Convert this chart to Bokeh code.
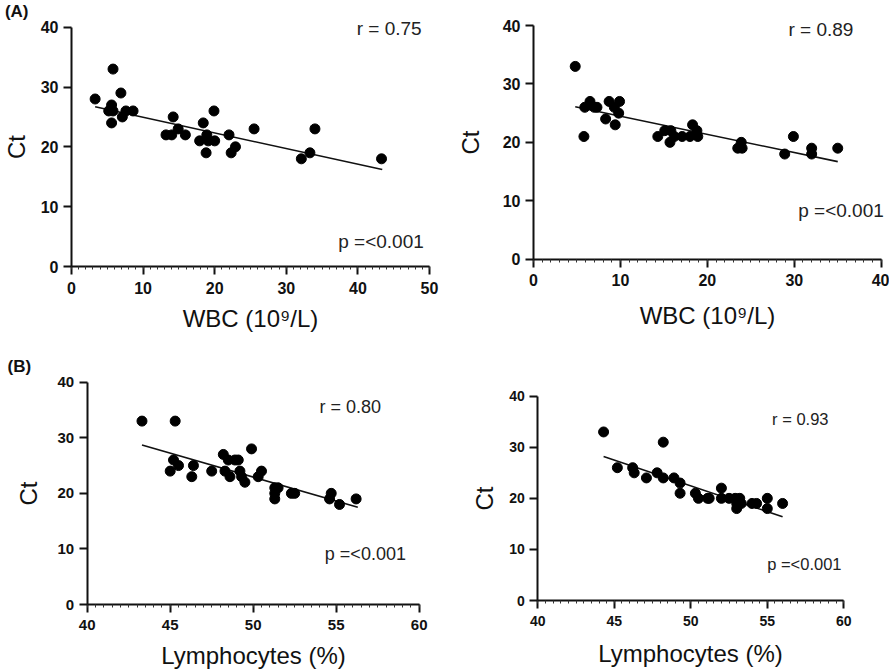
from bokeh.plotting import figure
from bokeh.layouts import column, row
from bokeh.models import Label, SingleIntervalTicker, LinearAxis
from bokeh.embed import file_html
from bokeh.resources import INLINE

# ---------------- data ----------------
wbc_a1 = [3.3, 5.8, 6.9, 5.6, 5.2, 5.8, 5.6, 7.1, 7.6, 8.6, 14.2, 13.2, 14.0, 14.9, 15.9,
          18.4, 19.9, 17.9, 18.9, 19.1, 20.0, 18.8, 22.0, 22.9, 22.3, 25.5, 34.0, 33.3, 32.1, 43.3]
ct_a1 = [28, 33, 29, 27, 26, 26, 24, 25, 26, 26, 25, 22, 22, 23, 22,
         24, 26, 21, 22, 21, 21, 19, 22, 20, 19, 23, 23, 19, 18, 18]
fit_a1_x = [3.3, 43.4]
fit_a1_y = [26.7, 16.2]

wbc_a2 = [4.8, 5.8, 5.9, 6.5, 7.0, 7.3, 8.7, 9.9, 9.3, 9.8, 8.3, 9.4, 14.3, 15.1, 15.8,
          15.7, 16.2, 17.1, 18.0, 18.3, 18.8, 18.9, 23.9, 23.5, 24.0, 28.9, 29.9, 32.0, 32.0, 35.0]
ct_a2 = [33, 21, 26, 27, 26, 26, 27, 27, 26, 25, 24, 23, 21, 22, 22,
         20, 21, 21, 21, 23, 22, 21, 20, 19, 19, 18, 21, 19, 18, 19]
fit_a2_x = [4.8, 35.0]
fit_a2_y = [26.1, 16.7]

lym_b1 = [43.3, 45.3, 49.9, 48.2, 48.5, 48.9, 49.1, 45.2, 45.5, 46.4, 45.0, 46.3, 47.5, 48.3, 48.6,
          49.2, 49.3, 49.5, 50.3, 50.5, 51.3, 51.5, 51.3, 51.3, 52.3, 52.5, 54.7, 54.6, 55.2, 56.2]
ct_b1 = [33, 33, 28, 27, 26, 26, 26, 26, 25, 25, 24, 23, 24, 24, 23,
         24, 23, 22, 23, 24, 21, 21, 20, 19, 20, 20, 20, 19, 18, 19]
fit_b1_x = [43.3, 56.3]
fit_b1_y = [28.7, 17.5]

lym_b2 = [44.3, 48.2, 45.2, 46.2, 46.3, 47.1, 47.8, 48.2, 48.9, 49.3, 49.3, 50.3, 50.5, 51.1,
          51.2, 52.0, 52.0, 52.5, 52.9, 53.0, 53.0, 53.2, 53.3, 54.0, 54.3, 55.0, 55.0, 56.0]
ct_b2 = [33, 31, 26, 26, 25, 24, 25, 24, 24, 23, 21, 21, 20, 20,
         20, 20, 22, 20, 20, 19, 18, 20, 19, 19, 19, 20, 18, 19]
fit_b2_x = [44.3, 56.0]
fit_b2_y = [28.2, 16.4]

r_texts = ["r = 0.75", "r = 0.89", "r = 0.80", "r = 0.93"]
p_text = "p =<0.001"
wbc_label = "WBC (10\u2079/L)"
lym_label = "Lymphocytes (%)"
y_label = "Ct"
y_lim = (0, 40)

FONT = "Liberation Sans"
INK = "#111111"


def span(edge_lo, edge_hi, d0, p0, d1, p1):
    """Data range covering pixel edges, given two (data, pixel) anchors."""
    k = (d1 - d0) / (p1 - p0)
    return (d0 + (edge_lo - p0) * k, d0 + (edge_hi - p0) * k)


def panel(xs, ys, fx, fy, xlim, xstep, xlabel, r_txt, r_at, p_at, box, xpix, ypix,
          tick_fs, note_fs, x_lab_off, y_lab_off, tag=None, tag_at=None):
    bx, by, bw, bh = box
    xr = span(bx, bx + bw, xlim[0], xpix[0], xlim[1], xpix[1])
    yr = span(by + bh, by, y_lim[0], ypix[0], y_lim[1], ypix[1])
    p = figure(width=bw, height=bh, x_range=xr, y_range=yr, title=None,
               output_backend="svg", toolbar_location=None,
               x_axis_location=None, y_axis_location=None, min_border=0)
    p.outline_line_color = None
    p.grid.visible = False
    p.background_fill_color = "white"
    p.border_fill_color = "white"

    xa = LinearAxis(ticker=SingleIntervalTicker(interval=xstep, num_minor_ticks=10),
                    bounds=xlim, fixed_location=y_lim[0], axis_label=xlabel)
    ya = LinearAxis(ticker=SingleIntervalTicker(interval=10, num_minor_ticks=0),
                    bounds=y_lim, fixed_location=xlim[0], axis_label=y_label)
    for ax in (xa, ya):
        ax.axis_line_width = 2
        ax.axis_line_color = INK
        ax.major_tick_line_width = 2
        ax.major_tick_line_color = INK
        ax.major_tick_out = 8
        ax.major_tick_in = 0
        ax.minor_tick_in = 0
        ax.minor_tick_out = 3
        ax.minor_tick_line_width = 1
        ax.minor_tick_line_color = "#333333"
        ax.major_label_text_font = FONT
        ax.major_label_text_font_style = "bold"
        ax.major_label_text_font_size = f"{tick_fs}px"
        ax.major_label_text_color = INK
        ax.axis_label_text_font = FONT
        ax.axis_label_text_font_style = "normal"
        ax.axis_label_text_font_size = "24px"
        ax.axis_label_text_color = INK
    ya.minor_tick_line_color = None
    xa.major_label_standoff = 7
    ya.major_label_standoff = 5
    xa.axis_label_standoff = x_lab_off
    ya.axis_label_standoff = y_lab_off
    p.add_layout(xa, "below")
    p.add_layout(ya, "left")

    p.line(fx, fy, line_color=INK, line_width=1.6)
    p.scatter(xs, ys, size=10, marker="circle", fill_color="black", line_color="black")

    p.add_layout(Label(x=r_at[0], y=r_at[1], text=r_txt, text_align="right",
                       text_baseline="middle", text_font=FONT,
                       text_font_size=f"{note_fs}px", text_color="#222222"))
    p.add_layout(Label(x=p_at[0], y=p_at[1], text=p_text, text_align="right",
                       text_baseline="middle", text_font=FONT,
                       text_font_size=f"{note_fs}px", text_color="#222222"))
    if tag:
        p.add_layout(Label(x=tag_at[0], y=tag_at[1], text=tag, text_align="left",
                           text_baseline="middle", text_font=FONT, text_font_style="bold",
                           text_font_size="17px", text_color=INK))
    return p


p1 = panel(wbc_a1, ct_a1, fit_a1_x, fit_a1_y, (0, 50), 10, wbc_label, r_texts[0],
           (48.9, 39.7), (49.2, 4.2), (0, 0, 448, 335), (71, 429), (266, 26.7),
           16, 19, 8, 8, tag="(A)", tag_at=(-9.3, 42.7))
p2 = panel(wbc_a2, ct_a2, fit_a2_x, fit_a2_y, (0, 40), 10, wbc_label, r_texts[1],
           (36.8, 39.3), (40.3, 8.3), (448, 0, 441, 335), (533, 880.7), (258.7, 25),
           16, 19, 12, 16)
p3 = panel(lym_b1, ct_b1, fit_b1_x, fit_b1_y, (40, 60), 5, lym_label, r_texts[2],
           (57.7, 35.6), (59.2, 9.0), (0, 335, 448, 336), (86.7, 418.7), (604, 381.7),
           15, 18, 9, 13, tag="(B)", tag_at=(35.2, 42.8))
p4 = panel(lym_b2, ct_b2, fit_b2_x, fit_b2_y, (40, 60), 5, lym_label, r_texts[3],
           (59.0, 35.6), (59.85, 7.2), (448, 335, 441, 336), (537.3, 843.3), (600, 395.7),
           14, 16.5, 11, 8)

layout = column(row(p1, p2, spacing=0), row(p3, p4, spacing=0), spacing=0)

open("out.html", "w").write(file_html(layout, INLINE))
